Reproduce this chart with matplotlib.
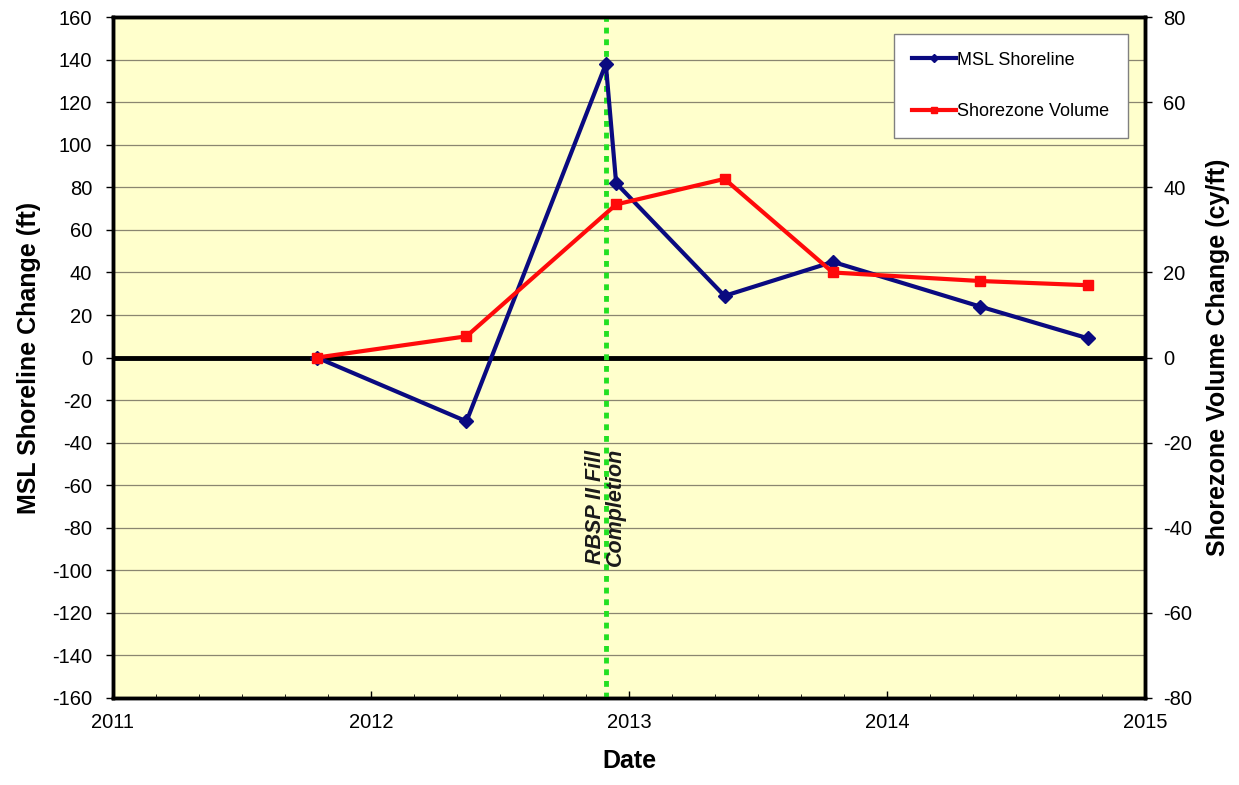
import matplotlib.pyplot as plt
import numpy as np

# survey dates as decimal years
msl_dates = [2011.79, 2012.37, 2012.91, 2012.95, 2013.37, 2013.79, 2014.36, 2014.78]
msl_change = [0, -30, 138, 82, 29, 45, 24, 9]
vol_dates = [2011.79, 2012.37, 2012.95, 2013.37, 2013.79, 2014.36, 2014.78]
vol_change = [0, 5, 36, 42, 20, 18, 17]
fill_date = 2012.91

plt.rcParams['font.family'] = ['Liberation Sans', 'DejaVu Sans']
plt.rcParams['axes.unicode_minus'] = False

fig = plt.figure(figsize=(12.39, 7.85), dpi=100)
ax = fig.add_axes([0.0912, 0.111, 0.833, 0.867])
ax.set_facecolor('#FFFFCC')
ax2 = ax.twinx()

ax.set_xlim(2011, 2015)
ax.set_ylim(-160, 160)
ax2.set_ylim(-80, 80)
ax.set_yticks(np.arange(-160, 161, 20))
ax2.set_yticks(np.arange(-80, 81, 20))
ax.set_xticks([2011, 2012, 2013, 2014, 2015])
ax.set_xticks(np.arange(2011, 2015, 1 / 6), minor=True)
ax.grid(axis='y', color='#8a8670', linewidth=0.9)
ax.set_axisbelow(True)

ax.axhline(0, color='black', linewidth=3.5, zorder=2)
ax.axvline(fill_date, color='#22e022', linestyle=(0, (1.2, 1.2)), linewidth=3.5, zorder=3)
ax.text(fill_date, -70, 'RBSP II Fill\nCompletion', rotation=90, ha='center', va='center',
        fontsize=15.5, fontweight='bold', fontstyle='italic', color='#1a1a1a',
        linespacing=0.95, zorder=4)

l1, = ax.plot(msl_dates, msl_change, color='#0a0a80', marker='D', markersize=7,
              linewidth=3, label='MSL Shoreline', zorder=5)
l2, = ax2.plot(vol_dates, vol_change, color='#ff0a0a', marker='s', markersize=7,
               linewidth=3, label='Shorezone Volume', zorder=5)

for a in (ax, ax2):
    for s in a.spines.values():
        s.set_linewidth(2.5)
    a.tick_params(axis='y', labelsize=14.5, direction='out', length=5, width=1)
ax.tick_params(axis='y', pad=10)
ax2.tick_params(axis='y', pad=8)
ax.tick_params(axis='x', labelsize=14.5, direction='in', length=5, width=1, pad=11)
ax.tick_params(axis='x', which='minor', direction='in', length=3)

ax.set_xlabel('Date', fontsize=18, fontweight='bold', labelpad=12)
ax.set_ylabel('MSL Shoreline Change (ft)', fontsize=18, fontweight='bold', labelpad=8)
ax2.set_ylabel('Shorezone Volume Change (cy/ft)', fontsize=18, fontweight='bold', labelpad=10)

leg = ax2.legend(handles=[l1, l2], loc='upper right', bbox_to_anchor=(0.983, 0.976),
                 borderaxespad=0, fontsize=13, frameon=True, fancybox=False,
                 edgecolor='#808080', labelspacing=1.9, handlelength=2.4,
                 handletextpad=0.1, borderpad=1.0, markerscale=0.6)
leg.get_frame().set_facecolor('white')
leg.get_frame().set_alpha(1)

fig.savefig('out.png', dpi=100)
